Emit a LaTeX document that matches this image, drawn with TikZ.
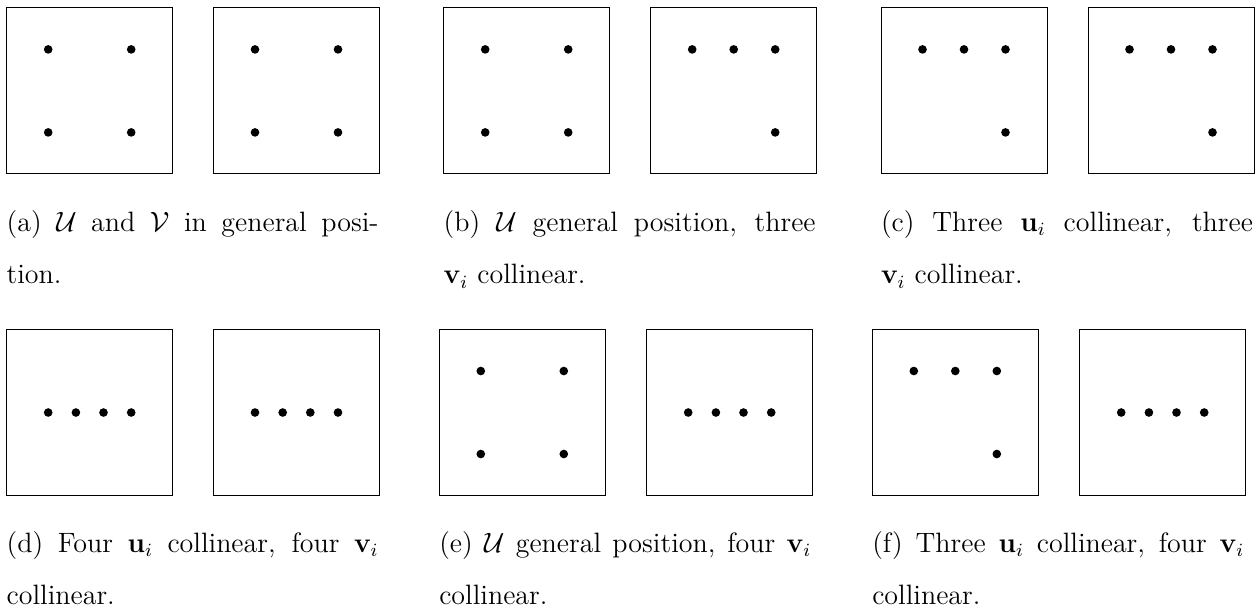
\documentclass[tikz,border=0pt]{standalone}
\begin{document}
\begin{tikzpicture}[x=0.42857pt,y=-0.42857pt]
\tikzset{
 panel/.style={draw, line width=0.4pt, minimum size=71.14pt, inner sep=0pt, outer sep=0pt},
 pnt/.style={circle, fill, inner sep=0pt, minimum size=3.7pt},
 captext/.style={anchor=north west, inner sep=0pt, outer sep=0pt, text width=159.4pt, align=justify, font=\fontsize{12}{22.7}\selectfont}
}
\useasboundingbox (0,0) rectangle (1258,612);
% ---------- row 1 ----------
% (a)
\node[panel] (a1) at (89.7,90.9) {};
\node[pnt] (a1p1) at (48.2,49.4) {};
\node[pnt] (a1p2) at (131.2,49.4) {};
\node[pnt] (a1p3) at (48.2,132.4) {};
\node[pnt] (a1p4) at (131.2,132.4) {};
\node[panel] (a2) at (296.5,90.9) {};
\node[pnt] (a2p1) at (255,49.4) {};
\node[pnt] (a2p2) at (338,49.4) {};
\node[pnt] (a2p3) at (255,132.4) {};
\node[pnt] (a2p4) at (338,132.4) {};
\node[captext] (capa) at (6.7,210) {(a) $\mathcal{U}$ and $\mathcal{V}$ in general posi-\linebreak tion.};
% (b)
\node[panel] (b1) at (526.7,90.9) {};
\node[pnt] (b1p1) at (485.2,49.4) {};
\node[pnt] (b1p2) at (568.2,49.4) {};
\node[pnt] (b1p3) at (485.2,132.4) {};
\node[pnt] (b1p4) at (568.2,132.4) {};
\node[panel] (b2) at (733.7,90.9) {};
\node[pnt] (b2p1) at (692.2,49.4) {};
\node[pnt] (b2p2) at (733.7,49.4) {};
\node[pnt] (b2p3) at (775.2,49.4) {};
\node[pnt] (b2p4) at (775.2,132.4) {};
\node[captext] (capb) at (443.7,210) {(b) $\mathcal{U}$ general position, three\linebreak $\mathbf{v}_i$ collinear.};
% (c)
\node[panel] (c1) at (964,90.9) {};
\node[pnt] (c1p1) at (922.5,49.4) {};
\node[pnt] (c1p2) at (964,49.4) {};
\node[pnt] (c1p3) at (1005.5,49.4) {};
\node[pnt] (c1p4) at (1005.5,132.4) {};
\node[panel] (c2) at (1171,90.9) {};
\node[pnt] (c2p1) at (1129.5,49.4) {};
\node[pnt] (c2p2) at (1171,49.4) {};
\node[pnt] (c2p3) at (1212.5,49.4) {};
\node[pnt] (c2p4) at (1212.5,132.4) {};
\node[captext] (capc) at (881,210) {(c) Three $\mathbf{u}_i$ collinear, three\linebreak $\mathbf{v}_i$ collinear.};
% ---------- row 2 ----------
% (d)
\node[panel] (d1) at (89.7,412.5) {};
\node[pnt] (d1p1) at (48.2,412.5) {};
\node[pnt] (d1p2) at (75.9,412.5) {};
\node[pnt] (d1p3) at (103.5,412.5) {};
\node[pnt] (d1p4) at (131.2,412.5) {};
\node[panel] (d2) at (296.5,412.5) {};
\node[pnt] (d2p1) at (255,412.5) {};
\node[pnt] (d2p2) at (282.7,412.5) {};
\node[pnt] (d2p3) at (310.3,412.5) {};
\node[pnt] (d2p4) at (338,412.5) {};
\node[captext] (capd) at (6.7,531) {(d) Four $\mathbf{u}_i$ collinear, four $\mathbf{v}_i$\linebreak collinear.};
% (e)
\node[panel] (e1) at (522.3,412.5) {};
\node[pnt] (e1p1) at (480.8,371) {};
\node[pnt] (e1p2) at (563.8,371) {};
\node[pnt] (e1p3) at (480.8,454) {};
\node[pnt] (e1p4) at (563.8,454) {};
\node[panel] (e2) at (729.7,412.5) {};
\node[pnt] (e2p1) at (688.2,412.5) {};
\node[pnt] (e2p2) at (715.9,412.5) {};
\node[pnt] (e2p3) at (743.5,412.5) {};
\node[pnt] (e2p4) at (771.2,412.5) {};
\node[captext] (cape) at (439.3,531) {(e) $\mathcal{U}$ general position, four $\mathbf{v}_i$\linebreak collinear.};
% (f)
\node[panel] (f1) at (955.3,412.5) {};
\node[pnt] (f1p1) at (913.8,371) {};
\node[pnt] (f1p2) at (955.3,371) {};
\node[pnt] (f1p3) at (996.8,371) {};
\node[pnt] (f1p4) at (996.8,454) {};
\node[panel] (f2) at (1162.7,412.5) {};
\node[pnt] (f2p1) at (1121.2,412.5) {};
\node[pnt] (f2p2) at (1148.9,412.5) {};
\node[pnt] (f2p3) at (1176.5,412.5) {};
\node[pnt] (f2p4) at (1204.2,412.5) {};
\node[captext] (capf) at (872.3,531) {(f) Three $\mathbf{u}_i$ collinear, four $\mathbf{v}_i$\linebreak collinear.};
\end{tikzpicture}
\end{document}
